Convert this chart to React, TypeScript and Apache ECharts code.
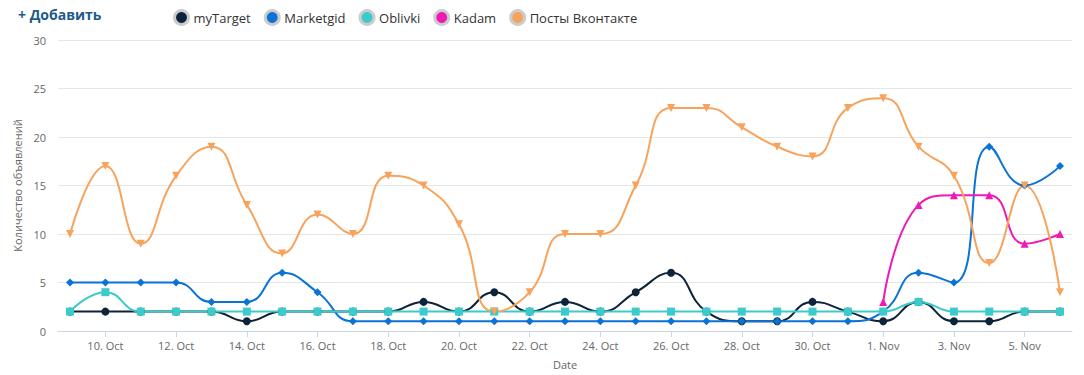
import React, { useEffect, useRef } from "react";
import * as echarts from "echarts";

const dates = [
  "9. Oct", "10. Oct", "11. Oct", "12. Oct", "13. Oct", "14. Oct", "15. Oct", "16. Oct",
  "17. Oct", "18. Oct", "19. Oct", "20. Oct", "21. Oct", "22. Oct", "23. Oct", "24. Oct",
  "25. Oct", "26. Oct", "27. Oct", "28. Oct", "29. Oct", "30. Oct", "31. Oct",
  "1. Nov", "2. Nov", "3. Nov", "4. Nov", "5. Nov", "6. Nov",
];
const tickIndices = [1, 3, 5, 7, 9, 11, 13, 15, 17, 19, 21, 23, 25, 27];

const myTarget = [2, 2, 2, 2, 2, 1, 2, 2, 2, 2, 3, 2, 4, 2, 3, 2, 4, 6, 2, 1, 1, 3, 2, 1, 3, 1, 1, 2, 2];
const marketgid = [5, 5, 5, 5, 3, 3, 6, 4, 1, 1, 1, 1, 1, 1, 1, 1, 1, 1, 1, 1, 1, 1, 1, 2, 6, 5, 19, 15, 17];
const oblivki = [2, 4, 2, 2, 2, 2, 2, 2, 2, 2, 2, 2, 2, 2, 2, 2, 2, 2, 2, 2, 2, 2, 2, 2, 3, 2, 2, 2, 2];
const kadam: (number | null)[] = [
  null, null, null, null, null, null, null, null, null, null, null, null, null, null, null,
  null, null, null, null, null, null, null, null, 3, 13, 14, 14, 9, 10,
];
const vk = [10, 17, 9, 16, 19, 13, 8, 12, 10, 16, 15, 11, 2, 4, 10, 10, 15, 23, 23, 21, 19, 18, 23, 24, 19, 16, 7, 15, 4];

const yTicks = [0, 5, 10, 15, 20, 25, 30];

const FONT = "'Open Sans', 'Noto Sans', sans-serif";

function pairs(arr: (number | null)[]) {
  return arr.map((v, i) => [i, v]).filter((p) => p[1] !== null);
}

export default function App() {
  const ref = useRef<HTMLDivElement>(null);
  useEffect(() => {
    if (!ref.current) return;
    const chart = echarts.init(ref.current, undefined, { renderer: "svg" });
    const mk = (name: string, data: (number | null)[], color: string, symbol: string, extra: any = {}) => ({
      name,
      type: "line",
      data: pairs(data),
      smooth: 0.5,
      symbol,
      symbolSize: 8,
      showAllSymbol: true,
      lineStyle: { width: 2, color },
      itemStyle: { color },
      emphasis: { disabled: true },
      ...extra,
    });
    chart.setOption({
      animation: false,
      textStyle: { fontFamily: FONT },
      graphic: [
        {
          type: "text",
          left: 18,
          top: 7,
          style: { text: "+ Добавить", fill: "#1f5a8a", font: `bold 14px ${FONT}` },
        },
      ],
      legend: {
        left: 168,
        top: 4,
        itemWidth: 14,
        itemHeight: 14,
        itemGap: 13,
        icon: "circle",
        selectedMode: false,
        itemStyle: { borderColor: "#cccccc", borderWidth: 3 },
        textStyle: { color: "#333333", fontSize: 13, fontFamily: FONT },
        data: ["myTarget", "Marketgid", "Oblivki", "Kadam", "Посты Вконтакте"],
      },
      grid: { left: 58, right: 12, top: 40, bottom: 38, containLabel: false },
      xAxis: {
        type: "value",
        min: -0.34,
        max: 28.34,
        name: "Date",
        nameLocation: "middle",
        nameGap: 28,
        nameTextStyle: { color: "#666666", fontSize: 11 },
        axisLine: { show: true, lineStyle: { color: "#ccd6eb" } },
        axisTick: { show: true, length: 6, lineStyle: { color: "#ccd6eb" }, customValues: tickIndices },
        axisLabel: {
          color: "#666666",
          fontSize: 11,
          margin: 9,
          customValues: tickIndices,
          formatter: (v: number) => dates[Math.round(v)] ?? "",
        },
        splitLine: { show: false },
      },
      yAxis: {
        type: "value",
        min: 0,
        max: 30,
        interval: 5,
        name: "Количество объявлений",
        nameLocation: "middle",
        nameGap: 28,
        nameTextStyle: { color: "#666666", fontSize: 11 },
        axisLine: { show: false },
        axisTick: { show: false },
        axisLabel: { color: "#666666", fontSize: 11, margin: 12, customValues: yTicks },
        splitLine: { show: true, lineStyle: { color: "#e6e6e6", width: 1 } },
      },
      series: [
        mk("myTarget", myTarget, "#0d233a", "circle"),
        mk("Marketgid", marketgid, "#0b72d6", "diamond"),
        mk("Oblivki", oblivki, "#3ccaca", "rect"),
        mk("Kadam", kadam, "#ef19b3", "triangle"),
        mk("Посты Вконтакте", vk, "#f7a35c", "triangle", { symbolRotate: 180 }),
      ],
    });
    return () => chart.dispose();
  }, []);
  return <div ref={ref} style={{ width: 1084, height: 375, position: "absolute", left: 0, top: 0 }} />;
}
